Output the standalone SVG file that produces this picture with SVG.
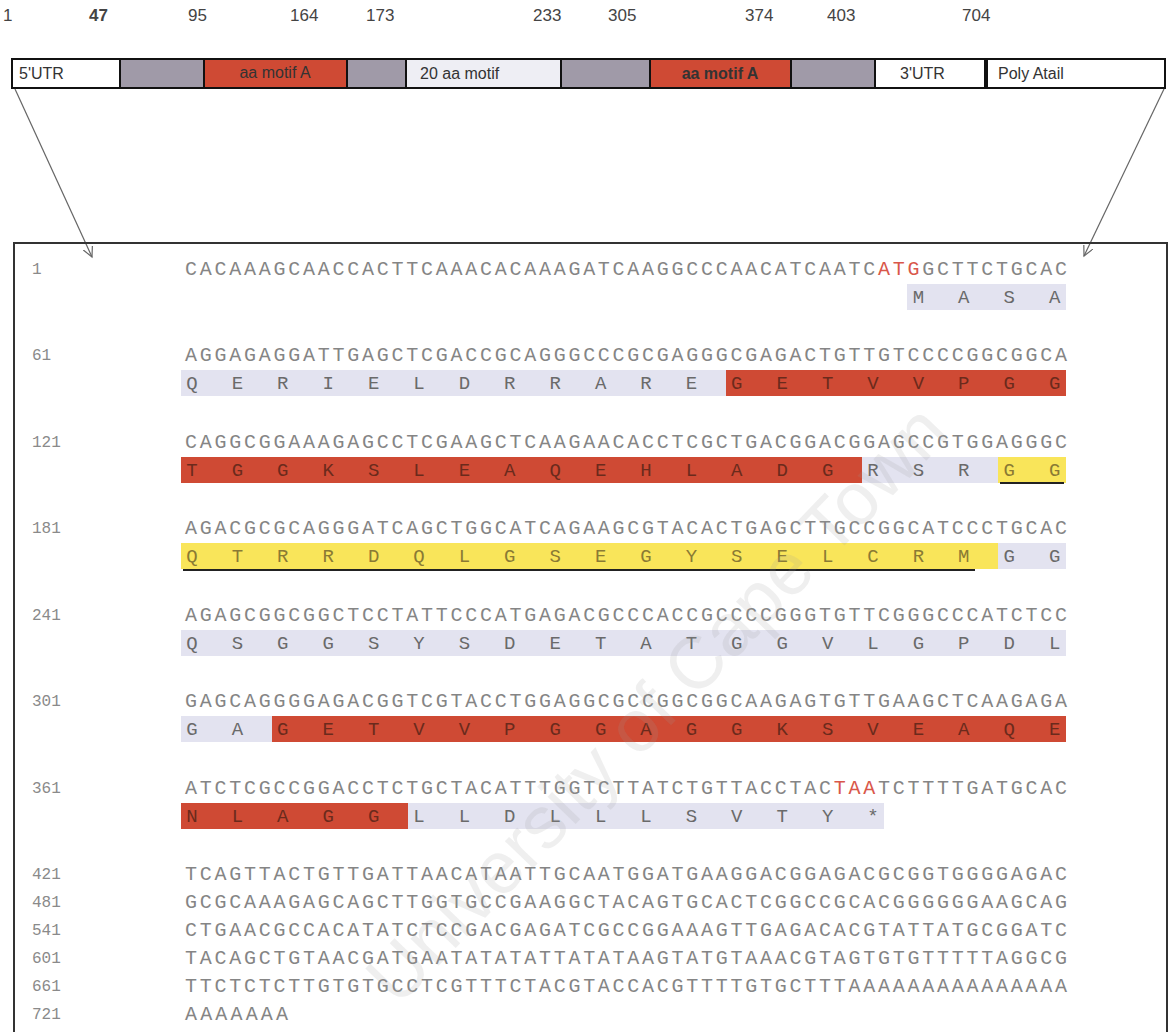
<svg xmlns="http://www.w3.org/2000/svg" width="1170" height="1032" viewBox="0 0 1170 1032">
<defs>
<style>
.num{font-family:"Liberation Sans",Arial,sans-serif;font-size:17px;fill:#444}
.lbl{font-family:"Liberation Sans",Arial,sans-serif;font-size:16px;fill:#333}
.nt{font-family:"Liberation Mono","DejaVu Sans Mono",monospace;font-size:20px;fill:#858585}
.rn{font-family:"Liberation Mono","DejaVu Sans Mono",monospace;font-size:16px;fill:#8a8a8a}
.aa{font-family:"Liberation Mono","DejaVu Sans Mono",monospace;font-size:19px;fill:#6a6a6a;text-anchor:middle}
.dk{fill:#6b2a1c}
.yl{fill:#8a7a34}
.red{fill:#cf4a34}
.lav{fill:#e3e3f0}
.yel{fill:#f9e55a}
.seg{stroke:#111;stroke-width:2}
.gry{fill:#a09aa8}
.wht{fill:#fff}
.conn{stroke:#666;stroke-width:1.2;fill:none}
.ul{stroke:#222;stroke-width:2}
.stop{fill:#d9574a}
</style>
<marker id="ah" markerWidth="12" markerHeight="12" refX="10" refY="5" orient="auto" markerUnits="userSpaceOnUse">
<path d="M0,0 L10,5 L0,10" fill="none" stroke="#666" stroke-width="1.2"/>
</marker>
</defs>
<rect width="1170" height="1032" fill="#fff"/>

<g id="numbers">
<text class="num" x="3" y="21">1</text>
<text class="num" x="89" y="21" font-weight="bold">47</text>
<text class="num" x="188" y="21">95</text>
<text class="num" x="290" y="21">164</text>
<text class="num" x="366" y="21">173</text>
<text class="num" x="533" y="21">233</text>
<text class="num" x="608" y="21">305</text>
<text class="num" x="745" y="21">374</text>
<text class="num" x="827" y="21">403</text>
<text class="num" x="962" y="21">704</text>
</g>

<g id="bar">
<rect class="wht seg" x="12" y="59" width="108" height="29"/>
<rect class="gry seg" x="120" y="59" width="84" height="29"/>
<rect class="red seg" x="204" y="59" width="143" height="29"/>
<rect class="gry seg" x="347" y="59" width="59" height="29"/>
<rect class="seg" fill="#eeeef4" x="406" y="59" width="155" height="29"/>
<rect class="gry seg" x="561" y="59" width="89" height="29"/>
<rect class="red seg" x="650" y="59" width="141" height="29"/>
<rect class="gry seg" x="791" y="59" width="84" height="29"/>
<rect class="wht seg" x="875" y="59" width="110" height="29"/>
<rect class="wht seg" x="987" y="59" width="178" height="29"/>
<text class="lbl" x="19" y="79">5'UTR</text>
<text class="lbl" x="275" y="78" text-anchor="middle" font-size="14" fill="#7a2414">aa motif A</text>
<text class="lbl" x="420" y="79">20 aa motif</text>
<text class="lbl" x="720" y="79" text-anchor="middle" font-weight="bold" font-size="15" fill="#111">aa motif A</text>
<text class="lbl" x="900" y="79">3'UTR</text>
<text class="lbl" x="998" y="79">Poly Atail</text>
</g>

<g id="connectors">
<line class="conn" x1="15" y1="89" x2="92" y2="257" marker-end="url(#ah)"/>
<line class="conn" x1="1164" y1="89" x2="1084" y2="256" marker-end="url(#ah)"/>
</g>

<g id="sequence-box">
<rect x="14" y="243" width="1153" height="800" fill="none" stroke="#333" stroke-width="2"/>
</g>

<g id="highlights">
<rect class="lav" x="907" y="284" width="159" height="26"/>
<rect class="lav" x="181" y="370" width="545" height="26"/>
<rect class="red" x="726" y="370" width="340" height="26"/>
<rect class="red" x="181" y="457" width="681" height="26"/>
<rect class="lav" x="862" y="457" width="136" height="26"/>
<rect class="yel" x="998" y="457" width="68" height="26"/>
<line class="ul" x1="1000" y1="483" x2="1064" y2="483"/>
<rect class="yel" x="181" y="543" width="817" height="26"/>
<rect class="lav" x="998" y="543" width="68" height="26"/>
<line class="ul" x1="183" y1="570" x2="975" y2="570"/>
<rect class="lav" x="181" y="630" width="885" height="26"/>
<rect class="lav" x="181" y="716" width="91" height="26"/>
<rect class="red" x="272" y="716" width="794" height="26"/>
<rect class="red" x="181" y="803" width="227" height="26"/>
<rect class="lav" x="408" y="803" width="476" height="26"/>
</g>

<g id="row-numbers">
<text class="rn" x="32" y="274">1</text>
<text class="rn" x="32" y="360">61</text>
<text class="rn" x="32" y="447">121</text>
<text class="rn" x="32" y="533">181</text>
<text class="rn" x="32" y="620">241</text>
<text class="rn" x="32" y="706">301</text>
<text class="rn" x="32" y="793">361</text>
<text class="rn" x="32" y="879">421</text>
<text class="rn" x="32" y="907">481</text>
<text class="rn" x="32" y="935">541</text>
<text class="rn" x="32" y="963">601</text>
<text class="rn" x="32" y="991">661</text>
<text class="rn" x="32" y="1019">721</text>
</g>

<g id="nucleotides">
<text class="nt" x="185" y="275" textLength="882" lengthAdjust="spacing">CACAAAGCAACCACTTCAAACACAAAGATCAAGGCCCAACATCAATC<tspan class="stop">ATG</tspan>GCTTCTGCAC</text>
<text class="nt" x="185" y="361" textLength="882" lengthAdjust="spacing">AGGAGAGGATTGAGCTCGACCGCAGGGCCCGCGAGGGCGAGACTGTTGTCCCCGGCGGCA</text>
<text class="nt" x="185" y="448" textLength="882" lengthAdjust="spacing">CAGGCGGAAAGAGCCTCGAAGCTCAAGAACACCTCGCTGACGGACGGAGCCGTGGAGGGC</text>
<text class="nt" x="185" y="534" textLength="882" lengthAdjust="spacing">AGACGCGCAGGGATCAGCTGGCATCAGAAGCGTACACTGAGCTTGCCGGCATCCCTGCAC</text>
<text class="nt" x="185" y="621" textLength="882" lengthAdjust="spacing">AGAGCGGCGGCTCCTATTCCCATGAGACGCCCACCGCCCCGGGTGTTCGGGCCCATCTCC</text>
<text class="nt" x="185" y="707" textLength="882" lengthAdjust="spacing">GAGCAGGGGAGACGGTCGTACCTGGAGGCGCCGGCGGCAAGAGTGTTGAAGCTCAAGAGA</text>
<text class="nt" x="185" y="794" textLength="882" lengthAdjust="spacing">ATCTCGCCGGACCTCTGCTACATTTGGTCTTATCTGTTACCTAC<tspan class="stop">TAA</tspan>TCTTTTGATGCAC</text>
<text class="nt" x="185" y="880" textLength="882" lengthAdjust="spacing">TCAGTTACTGTTGATTAACATAATTGCAATGGATGAAGGACGGAGACGCGGTGGGGAGAC</text>
<text class="nt" x="185" y="908" textLength="882" lengthAdjust="spacing">GCGCAAAGAGCAGCTTGGTGCCGAAGGCTACAGTGCACTCGGCCGCACGGGGGGAAGCAG</text>
<text class="nt" x="185" y="936" textLength="882" lengthAdjust="spacing">CTGAACGCCACATATCTCCGACGAGATCGCCGGAAAGTTGAGACACGTATTATGCGGATC</text>
<text class="nt" x="185" y="964" textLength="882" lengthAdjust="spacing">TACAGCTGTAACGATGAATATATATTATATAAGTATGTAAACGTAGTGTGTTTTTAGGCG</text>
<text class="nt" x="185" y="992" textLength="882" lengthAdjust="spacing">TTCTCTCTTGTGTGCCTCGTTTCTACGTACCACGTTTTGTGCTTTAAAAAAAAAAAAAAA</text>
<text class="nt" x="185" y="1020" textLength="103" lengthAdjust="spacing">AAAAAAA</text>
</g>

<g id="amino-acids">
<text class="aa" y="303" x="918.4 963.8 1009.2 1054.6">MASA</text>
<text class="aa" y="389"><tspan x="192 237.4 282.8 328.2 373.6 419 464.4 509.8 555.2 600.6 646 691.4">QERIELDRRARE</tspan><tspan class="dk" x="736.8 782.2 827.6 873 918.4 963.8 1009.2 1054.6">GETVVPGG</tspan></text>
<text class="aa" y="476"><tspan class="dk" x="192 237.4 282.8 328.2 373.6 419 464.4 509.8 555.2 600.6 646 691.4 736.8 782.2 827.6">TGGKSLEAQEHLADG</tspan><tspan x="873 918.4 963.8">RSR</tspan><tspan class="yl" x="1009.2 1054.6">GG</tspan></text>
<text class="aa" y="562"><tspan class="yl" x="192 237.4 282.8 328.2 373.6 419 464.4 509.8 555.2 600.6 646 691.4 736.8 782.2 827.6 873 918.4 963.8">QTRRDQLGSEGYSELCRM</tspan><tspan x="1009.2 1054.6">GG</tspan></text>
<text class="aa" y="649" x="192 237.4 282.8 328.2 373.6 419 464.4 509.8 555.2 600.6 646 691.4 736.8 782.2 827.6 873 918.4 963.8 1009.2 1054.6">QSGGSYSDETATGGVLGPDL</text>
<text class="aa" y="735"><tspan x="192 237.4">GA</tspan><tspan class="dk" x="282.8 328.2 373.6 419 464.4 509.8 555.2 600.6 646 691.4 736.8 782.2 827.6 873 918.4 963.8 1009.2 1054.6">GETVVPGGAGGKSVEAQE</tspan></text>
<text class="aa" y="822"><tspan class="dk" x="192 237.4 282.8 328.2 373.6">NLAGG</tspan><tspan x="419 464.4 509.8 555.2 600.6 646 691.4 736.8 782.2 827.6 873">LLDLLLSVTY*</tspan></text>
</g>

<g id="watermark">
<text x="0" y="0" transform="translate(398,1008) rotate(-46)" font-family="Liberation Sans,Arial,sans-serif" font-size="74" fill="#9a9a9a" fill-opacity="0.16">University of Cape Town</text>
</g>
</svg>
